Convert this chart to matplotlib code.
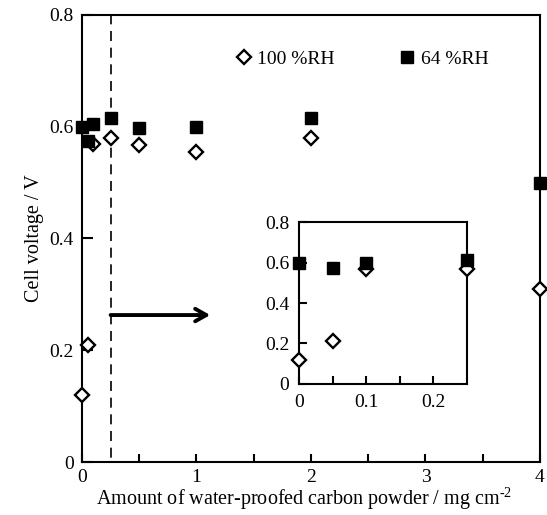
import matplotlib
matplotlib.use("Agg")
import matplotlib.pyplot as plt
from matplotlib.patches import Rectangle
from matplotlib.ticker import FixedLocator, FuncFormatter

plt.rcParams['font.family'] = ['Liberation Serif', 'DejaVu Serif']
plt.rcParams['mathtext.fontset'] = 'custom'
plt.rcParams['mathtext.rm'] = 'Liberation Serif'

# Data
amount = [0, 0.05, 0.1, 0.25, 0.5, 1.0, 2.0, 4.0]
rh100 = [0.12, 0.21, 0.57, 0.58, 0.567, 0.555, 0.58, 0.31]
rh64 = [0.60, 0.575, 0.605, 0.615, 0.598, 0.60, 0.615, 0.50]
labels = ['100 %RH', '64 %RH']

inset_amount = [0, 0.05, 0.1, 0.25]
inset_rh100 = [0.12, 0.21, 0.57, 0.57]
inset_rh64 = [0.60, 0.575, 0.60, 0.61]

main_xticks = [0, 1, 2, 3, 4]
main_xminor = [0.5, 1.5, 2.5, 3.5]
yticks = [0, 0.2, 0.4, 0.6, 0.8]
inset_xticks = [0, 0.1, 0.2]
inset_xminor = [0.05, 0.15]

fmt = FuncFormatter(lambda v, p: '0' if abs(v) < 1e-9 else f'{v:g}')

fig = plt.figure(figsize=(5.47, 5.15), dpi=100)
ax = fig.add_axes([0.1499, 0.1029, 0.8373, 0.868])

dkw = dict(marker='D', ms=7.5, mfc='white', mec='black', mew=1.7, ls='none', clip_on=False, zorder=5)
skw = dict(marker='s', ms=8.5, mfc='black', mec='black', ls='none', clip_on=False, zorder=5)

h1, = ax.plot(amount, rh100, **dkw)
h2, = ax.plot(amount, rh64, **skw)

ax.set_xlim(0, 4)
ax.set_ylim(0, 0.8)
ax.xaxis.set_major_locator(FixedLocator(main_xticks))
ax.xaxis.set_minor_locator(FixedLocator(main_xminor))
ax.yaxis.set_major_locator(FixedLocator(yticks))
ax.xaxis.set_major_formatter(fmt)
ax.yaxis.set_major_formatter(fmt)
ax.tick_params(axis='both', which='both', direction='in', labelsize=14, width=1.5)
ax.tick_params(axis='x', which='both', length=6, pad=5)
ax.tick_params(axis='y', which='major', length=8, pad=6)
for s in ax.spines.values():
    s.set_linewidth(1.5)

ax.set_xlabel('Amount of water-proofed carbon powder / mg cm$^{\\text{-2}}$', fontsize=14.5, labelpad=1)
ax.xaxis.set_label_coords(0.485, -0.052)
ax.set_ylabel('Cell voltage / V', fontsize=14.5, labelpad=4)

# dashed zoom region
ax.add_patch(Rectangle((0, 0), 0.25, 0.8, fill=False, ls=(0, (6, 4)), lw=1.2, ec='black', zorder=3, clip_on=False))

# arrow
ax.annotate('', xy=(1.12, 0.263), xytext=(0.25, 0.263),
            arrowprops=dict(arrowstyle='->,head_length=0.8,head_width=0.45', lw=2.8, color='black', shrinkA=0, shrinkB=0))

leg = ax.legend([h1, h2], labels, ncol=2, frameon=False, loc='upper left',
                bbox_to_anchor=(0.298, 0.96), fontsize=14, handlelength=0.8,
                handletextpad=0.3, columnspacing=3.3, numpoints=1)

# inset
ins = fig.add_axes([0.5466, 0.2544, 0.3071, 0.3145])
ins.plot(inset_amount, inset_rh100, **dkw)
ins.plot(inset_amount, inset_rh64, **skw)
ins.set_xlim(0, 0.25)
ins.set_ylim(0, 0.8)
ins.xaxis.set_major_locator(FixedLocator(inset_xticks))
ins.xaxis.set_minor_locator(FixedLocator(inset_xminor))
ins.yaxis.set_major_locator(FixedLocator(yticks))
ins.xaxis.set_major_formatter(fmt)
ins.yaxis.set_major_formatter(fmt)
ins.tick_params(axis='both', which='both', direction='in', labelsize=14, width=1.5, length=6, pad=7)
for s in ins.spines.values():
    s.set_linewidth(1.5)

fig.savefig('out.png', dpi=100)
